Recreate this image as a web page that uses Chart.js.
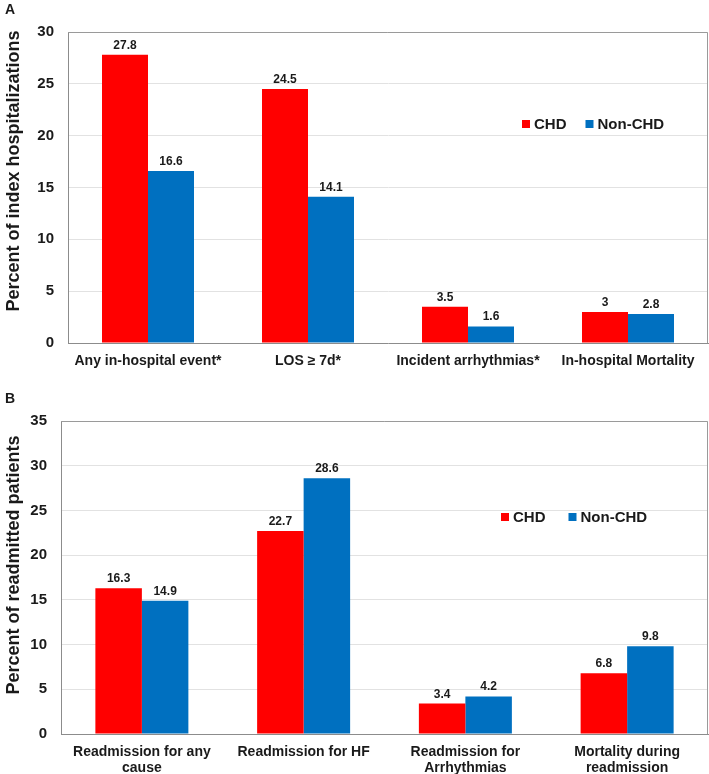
<!DOCTYPE html>
<html><head><meta charset="utf-8">
<title>CHD vs Non-CHD outcomes</title>
<script src="https://cdn.jsdelivr.net/npm/chart.js@4.4.7/dist/chart.umd.min.js"></script>
<style>
html,body{margin:0;padding:0;background:#fff}
canvas{display:block}
</style></head><body>
<canvas id="chartA" width="709" height="372"></canvas>
<canvas id="chartB" width="709" height="402"></canvas>
<script>
// series names + colours
var SERIES = ['CHD', 'Non-CHD'];
var COLORS = ['#FF0000', '#0070C0'];

// panel A: index hospitalizations
var LABELS_A = ['Any in-hospital event*', 'LOS \u2265 7d*', 'Incident arrhythmias*', 'In-hospital Mortality'];
var CHD_A = [27.8, 24.5, 3.5, 3];
var NONCHD_A = [16.6, 14.1, 1.6, 2.8];
var YMAX_A = 30;

// panel B: readmitted patients
var LABELS_B = [['Readmission for any', 'cause'], 'Readmission for HF', ['Readmission for', 'Arrhythmias'], ['Mortality during', 'readmission']];
var CHD_B = [16.3, 22.7, 3.4, 6.8];
var NONCHD_B = [14.9, 28.6, 4.2, 9.8];
var YMAX_B = 35;

var FONT = '"Liberation Sans", Arial, sans-serif';
var INK = '#1a1a1a';

// draws box, value labels, legend inside plot, panel letter, y title
var decor = {
  id: 'decor',
  afterDraw: function(chart) {
    var o = chart.options.plugins.decor;
    var ctx = chart.ctx, a = chart.chartArea;
    ctx.save();
    ctx.strokeStyle = '#9a9a9a';
    ctx.lineWidth = 1;
    ctx.beginPath();
    ctx.moveTo(a.left, a.top + 0.5);
    ctx.lineTo(a.right - 0.5, a.top + 0.5);
    ctx.lineTo(a.right - 0.5, a.bottom);
    ctx.stroke();

    ctx.fillStyle = INK;
    ctx.font = 'bold 12px ' + FONT;
    ctx.textAlign = 'center';
    ctx.textBaseline = 'alphabetic';
    chart.data.datasets.forEach(function(ds, i) {
      chart.getDatasetMeta(i).data.forEach(function(bar, j) {
        ctx.fillText(String(ds.data[j]), bar.x, bar.y - 6);
      });
    });

    // legend
    ctx.font = 'bold 15px ' + FONT;
    ctx.textAlign = 'left';
    ctx.textBaseline = 'middle';
    var lx = a.left + o.legendX, ly = a.top + o.legendY;
    chart.data.datasets.forEach(function(ds) {
      ctx.fillStyle = ds.backgroundColor;
      ctx.fillRect(lx, ly - 4, 8, 8);
      ctx.fillStyle = INK;
      ctx.fillText(ds.label, lx + 12, ly + 1);
      lx += 12 + ctx.measureText(ds.label).width + o.legendGap;
    });

    // panel letter
    ctx.font = 'bold 14px ' + FONT;
    ctx.textBaseline = 'alphabetic';
    ctx.fillText(o.letter, 5, o.letterY);

    // y axis title
    ctx.font = 'bold 18px ' + FONT;
    ctx.textAlign = 'center';
    ctx.translate(19, o.titleY);
    ctx.rotate(-Math.PI / 2);
    ctx.fillText(o.yTitle, 0, 0);
    ctx.restore();
  }
};

function makeChart(id, labels, chd, nonchd, ymax, opt) {
  return new Chart(document.getElementById(id), {
    type: 'bar',
    data: {
      labels: labels,
      datasets: [
        {label: SERIES[0], data: chd, backgroundColor: COLORS[0]},
        {label: SERIES[1], data: nonchd, backgroundColor: COLORS[1]}
      ]
    },
    options: {
      responsive: false,
      animation: false,
      layout: {padding: {top: opt.top, right: 1, left: 0, bottom: 0}},
      datasets: {bar: {categoryPercentage: 0.575, barPercentage: 1}},
      plugins: {
        legend: {display: false},
        tooltip: {enabled: false},
        decor: opt
      },
      scales: {
        x: {
          grid: {display: false},
          border: {color: '#8c8c8c'},
          ticks: {color: INK, padding: opt.xPad, maxRotation: 0, autoSkip: false,
                  font: {family: FONT, size: 14, weight: 'bold', lineHeight: 1.15}},
          afterFit: function(s) { s.height = opt.xHeight; }
        },
        y: {
          min: 0, max: ymax,
          grid: {color: '#e2e2e2', drawTicks: false},
          border: {color: '#8c8c8c'},
          ticks: {stepSize: 5, color: INK, padding: 14,
                  font: {family: FONT, size: 15, weight: 'bold'}},
          afterFit: function(s) { s.width = opt.yWidth; }
        }
      }
    },
    plugins: [decor]
  });
}

makeChart('chartA', LABELS_A, CHD_A, NONCHD_A, YMAX_A, {
  top: 32, yWidth: 68, xHeight: 29, xPad: 2,
  legendX: 454, legendY: 92, legendGap: 19,
  letter: 'A', letterY: 14, titleY: 171,
  yTitle: 'Percent of index hospitalizations'
});

makeChart('chartB', LABELS_B, CHD_B, NONCHD_B, YMAX_B, {
  top: 49, yWidth: 61, xHeight: 40, xPad: 2,
  legendX: 440, legendY: 96, legendGap: 23,
  letter: 'B', letterY: 31, titleY: 193,
  yTitle: 'Percent of readmitted patients'
});
</script>
</body></html>
